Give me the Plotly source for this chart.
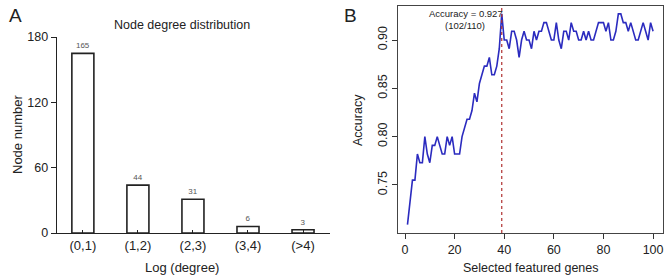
import plotly.graph_objects as go

# ---- Panel A data ----
degree_bins = ["(0,1)", "(1,2)", "(2,3)", "(3,4)", "(>4)"]
node_counts = [165, 44, 31, 6, 3]

# ---- Panel B data ----
genes = list(range(1, 101))
accuracy = [
    0.709, 0.736, 0.755, 0.755, 0.782, 0.773, 0.773, 0.800, 0.782, 0.773,
    0.791, 0.791, 0.800, 0.791, 0.782, 0.782, 0.800, 0.791, 0.800, 0.782,
    0.782, 0.782, 0.800, 0.809, 0.818, 0.818, 0.827, 0.845, 0.836, 0.855,
    0.864, 0.873, 0.873, 0.882, 0.864, 0.864, 0.873, 0.891, 0.927, 0.900,
    0.900, 0.891, 0.909, 0.909, 0.900, 0.882, 0.900, 0.909, 0.900, 0.900,
    0.891, 0.909, 0.900, 0.909, 0.909, 0.918, 0.918, 0.909, 0.900, 0.900,
    0.918, 0.900, 0.891, 0.909, 0.909, 0.900, 0.918, 0.909, 0.909, 0.900,
    0.900, 0.909, 0.900, 0.909, 0.900, 0.900, 0.909, 0.918, 0.918, 0.918,
    0.909, 0.918, 0.900, 0.900, 0.909, 0.927, 0.927, 0.918, 0.918, 0.909,
    0.918, 0.909, 0.900, 0.900, 0.909, 0.918, 0.909, 0.900, 0.918, 0.909,
]
best_gene = 39

W, H = 669, 280
FONT = "Arial, Liberation Sans, Helvetica, sans-serif"
TXT = "#222222"

def px_x(p):
    return p / W

def px_y(p):
    return 1 - p / H

fig = go.Figure()

fig.add_trace(go.Bar(
    x=list(range(len(degree_bins))), y=node_counts,
    width=0.4,
    marker=dict(color="white", line=dict(color="#222222", width=1.6)),
    text=[str(v) for v in node_counts], textposition="outside",
    textfont=dict(size=8, color="#555555", family=FONT),
    cliponaxis=False, hoverinfo="skip",
    xaxis="x", yaxis="y", showlegend=False,
))

fig.add_trace(go.Scatter(
    x=genes, y=accuracy, mode="lines",
    line=dict(color="#2b2bbf", width=1.6),
    hoverinfo="skip",
    xaxis="x2", yaxis="y2", showlegend=False,
))

fig.add_trace(go.Scatter(
    x=[best_gene, best_gene], y=[0.7003, 0.935], mode="lines",
    line=dict(color="#b03030", width=1.2, dash="dot"),
    hoverinfo="skip",
    xaxis="x2", yaxis="y2", showlegend=False,
))

common = dict(automargin=False, showgrid=False, zeroline=False)

fig.update_layout(
    template="none",
    width=W, height=H,
    margin=dict(l=0, r=0, t=0, b=0, pad=0),
    paper_bgcolor="white", plot_bgcolor="white",
    font=dict(family=FONT, color=TXT),
    hovermode=False,
    xaxis=dict(
        domain=[px_x(57), px_x(330)], range=[-0.47, 4.49],
        tickmode="array", tickvals=list(range(len(degree_bins))), ticktext=degree_bins,
        ticks="inside", ticklen=3, tickcolor="#222222",
        showline=True, linecolor="#222222", linewidth=1.4,
        tickfont=dict(size=13, color=TXT),
        anchor="y", **common,
    ),
    yaxis=dict(
        domain=[px_y(233), px_y(37)], range=[0, 180],
        tickvals=[0, 60, 120, 180],
        ticks="outside", ticklen=5, tickcolor="#222222",
        showline=True, linecolor="#222222", linewidth=1.4,
        tickfont=dict(size=12.5, color=TXT),
        anchor="x", **common,
    ),
    xaxis2=dict(
        domain=[px_x(398), px_x(663)], range=[-2.82, 104.0],
        tickvals=[0, 20, 40, 60, 80, 100],
        ticks="outside", ticklen=5, tickcolor="#333333",
        showline=True, linecolor="#444444", linewidth=1.4, mirror=True,
        tickfont=dict(size=12.5, color=TXT),
        anchor="y2", **common,
    ),
    yaxis2=dict(
        domain=[px_y(233), px_y(6)], range=[0.7003, 0.9352],
        tickvals=[0.75, 0.80, 0.85, 0.90], tickformat=".2f",
        tickangle=-90,
        ticks="outside", ticklen=5, tickcolor="#333333",
        showline=True, linecolor="#444444", linewidth=1.4, mirror=True,
        tickfont=dict(size=12.5, color=TXT),
        anchor="x2", **common,
    ),
)

ann = [
    dict(text="A", x=px_x(15), y=px_y(15), size=19),
    dict(text="B", x=px_x(350), y=px_y(15), size=19),
    dict(text="Node degree distribution", x=px_x(182), y=px_y(25), size=12.5),
    dict(text="Log (degree)", x=px_x(182), y=px_y(267), size=13),
    dict(text="Node number", x=px_x(17), y=px_y(135), size=13, angle=-90),
    dict(text="Selected featured genes", x=px_x(531), y=px_y(268), size=12.5),
    dict(text="Accuracy", x=px_x(358), y=px_y(120), size=12.5, angle=-90),
    dict(text="Accuracy = 0.927", x=px_x(466), y=px_y(13), size=9.5),
    dict(text="(102/110)", x=px_x(465), y=px_y(25), size=9.5),
]
for a in ann:
    fig.add_annotation(
        text=a["text"], x=a["x"], y=a["y"], xref="paper", yref="paper",
        xanchor="center", yanchor="middle", showarrow=False,
        textangle=a.get("angle", 0),
        font=dict(size=a["size"], color=TXT, family=FONT),
    )

fig.write_html(
    "out.html",
    config={"displayModeBar": False, "staticPlot": True},
    post_script="document.body.style.margin='0';document.body.style.padding='0';"
                "document.body.style.overflow='hidden';",
)
